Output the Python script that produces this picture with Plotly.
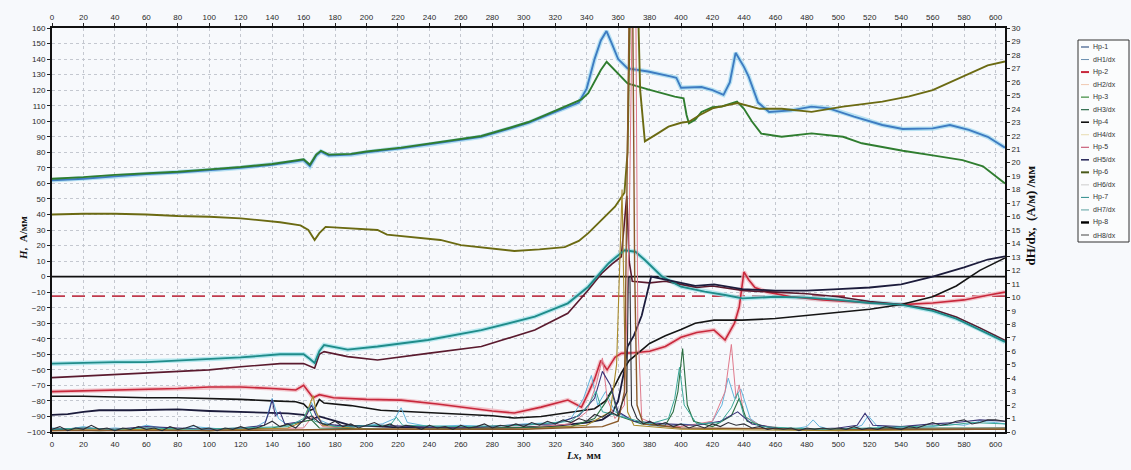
import plotly.graph_objects as go

# ---------------- axis ticks ----------------
X_TICKS = list(range(0, 601, 20))
H_TICKS = list(range(-100, 161, 10))
D_TICKS = list(range(0, 31, 1))
X_RANGE = [0, 606]
H_RANGE = [-100, 160]
D_RANGE = [0, 30]
ZERO_LEVEL = 0
THRESHOLD_LEVEL = -12.5

# ---------------- H series (left axis, A/mm) : (Lx, H) ----------------
HP1 = [(0,62),(20,63),(40,64.5),(60,66),(80,67),(100,68.5),(120,70),(140,72),(155,74),(160,75),(164,71),
       (168,78),(171,80.5),(176,78),(190,78.5),(200,80),(222,82.5),(240,85),(260,88),(273,90),(290,95),
       (303,99),(315,104),(328,109.5),(335,112),(340,121),(345,140),(349,152),(352.6,158),(356,150),
       (360,140),(366,134),(379,132),(394,128.7),(397,128),(400,121.5),(413,122),(420,120),(427,117),
       (431,125),(434.7,144),(440,135),(443,128.7),(449,112),(456,106),(470,107),(483,109.4),(494,108.3),
       (510,103),(528,97.6),(541,95),(560,95.4),(571,97.6),(583,94.4),(595,90),(606,83)]
HP2 = [(0,-74),(20,-73.5),(40,-73),(60,-72.5),(80,-72),(100,-71),(120,-71),(140,-72),(155,-73),(160,-70),
       (163,-74),(166,-78),(170,-76),(179,-78),(200,-79),(222,-79.5),(245,-82),(265,-84.6),(280,-86.5),
       (294,-87.8),(311,-84),(328,-79.4),(336.7,-84),(341,-75),(345,-66),(349,-54),(353,-60),(358,-52),
       (362,-49.4),(370,-49),(380,-48),(390,-45),(400,-39),(410,-36),(421,-34.4),(428,-40.8),(434,-30),
       (437,-19.6),(440,3),(443,-2),(447,-7),(455,-10),(470,-13),(490,-15),(520,-17),(540,-18),(560,-17),
       (580,-15),(595,-12),(606,-10)]
HP3 = [(0,63),(20,64),(40,65.5),(60,66.5),(80,67.5),(100,69),(120,70.5),(140,72.5),(155,74.5),(160,75.5),
       (164,72),(168,78.5),(171,81),(176,78.5),(190,79),(200,80.5),(222,83),(240,85.5),(260,88.5),(273,90.5),
       (290,95.5),(303,99.5),(315,104.5),(328,110.5),(336.7,114),(341,118),(345,126),(349,133),(352.7,138.3),
       (358,133),(366,124.4),(379,120.5),(396,115.8),(401.6,114.8),(403.5,104),(405,98.7),(409,101),(413,106),
       (420,109),(426,109.5),(435.6,112.6),(440,108),(445,100),(451,92),(464,90),(483,92.2),(503,90),
       (515,85.8),(541,81),(560,78),(579,75),(592,71),(600,65),(606,60)]
HP4 = [(0,-77),(20,-77),(40,-77.5),(60,-78),(80,-78),(100,-78.5),(120,-79),(140,-80),(155,-80.5),(160,-82),
       (164,-86),(167,-85),(170,-79),(173,-81.4),(190,-83),(209,-86),(230,-87),(256,-88),(280,-89.5),
       (294,-91),(311,-90),(332,-87),(345,-85),(352,-80),(358,-70),(362,-62),(367,-54),(380,-43),(390,-38),
       (400,-34),(409,-30),(421,-28),(439,-28),(460,-27),(480,-25),(500,-23),(520,-21),(540,-18),(560,-13),
       (575,-6),(590,4),(606,12)]
HP5 = [(0,-65),(20,-64),(40,-63),(60,-62),(80,-61),(100,-60),(120,-58),(145,-56),(160,-56),(164,-58),
       (167,-59),(170,-50),(173,-48.3),(188,-51.5),(207,-53.7),(239,-49.4),(273,-45),(307,-34.4),(328,-23.6),
       (341,-8.6),(349.5,2),(356,8),(362,12.8),(364,35),(365.5,52),(367,10),(369,-3),(380,-4),(390,-3),
       (400,-5),(410,-7),(420,-6),(440,-9),(460,-10),(480,-11),(500,-13),(520,-16),(540,-18),(560,-21),
       (575,-26),(590,-33),(606,-41)]
HP6 = [(0,40),(20,40.5),(40,40.5),(60,40),(80,39),(100,38.5),(120,37.5),(145,35),(158,33),(163,30),
       (167,23.6),(170,28),(174,32),(190,31),(207,30),(213,27),(230,25.5),(247,23.6),(260,20.3),(280,18),
       (294,16.5),(310,17.5),(326,19),(335,23),(341,28),(350,37),(358,45),(364,54),(366,80),(368,200),
       (372,200),(374,120),(377,87),(385,92),(392,96.5),(400,99),(405,99.7),(412,104),(420,108.3),(428,110),
       (436,111.7),(450,108),(464,108),(483,106),(503,109.4),(528,112.6),(545,116),(560,120),(575,127),
       (586,132),(595,136),(606,138.5)]
HP7 = [(0,-56),(20,-55.5),(40,-55),(60,-55),(80,-54),(100,-53),(120,-52),(145,-50),(160,-50),(164,-53),
       (167,-55.6),(170,-48),(173,-44),(188,-47),(207,-45),(239,-40.8),(273,-34.4),(307,-25.8),(328,-17.2),
       (341,-6.5),(354,8.6),(364,17),(371,16),(377,10.7),(388,0),(400,-6.5),(415,-9.7),(428,-11.8),
       (439,-14),(460,-13),(480,-13.5),(500,-15),(520,-17),(540,-18),(560,-22),(575,-27),(590,-34),(606,-42)]
HP8 = [(0,-89),(10,-88.5),(20,-87),(30,-86),(50,-86),(80,-85.5),(100,-86.5),(120,-87),(140,-87.5),
       (150,-88),(160,-89),(165,-92),(170,-90),(180,-93),(191,-96),(200,-96),(220,-97),(250,-97),
       (280,-97.5),(300,-97),(320,-96),(340,-94),(350,-92),(356,-88),(360,-80),(364,-60),(366,-45),
       (370,-38),(375,-25),(381,0),(390,-2),(400,-4),(409,-6),(421,-5),(439,-8),(460,-9),(480,-9),
       (500,-8),(520,-7),(540,-5),(560,0),(580,6),(595,11),(606,13)]

# ---------------- dH/dx series (right axis, (A/m)/mm) : (Lx, dH/dx) ----------------
DH1 = [(0,0.3),(10,0.2),(20,0.4),(30,0.2),(40,0.3),(50,0.2),(60,0.5),(70,0.3),(80,0.2),(90,0.4),(100,0.3),
       (110,0.2),(120,0.3),(130,0.4),(136,0.8),(140,2.5),(144,1.0),(150,0.5),(160,0.8),(165,2.2),(170,0.9),
       (180,0.4),(190,0.3),(200,0.5),(210,0.6),(218,1.0),(222,1.8),(226,0.7),(240,0.4),(260,0.5),(280,0.4),
       (300,0.6),(320,0.7),(330,1.0),(338,2.5),(343,4.2),(347,2.0),(352,3.0),(358,1.5),(370,0.8),(380,0.5),
       (390,0.4),(400,0.6),(410,0.5),(420,0.8),(426,2.0),(430,4.0),(434,2.5),(438,3.2),(444,1.0),(450,0.5),
       (460,0.3),(470,0.2),(480,0.4),(484,0.9),(488,0.4),(495,0.2),(510,0.3),(515,0.5),(519,1.2),(525,0.4),
       (540,0.3),(560,0.4),(570,0.6),(580,0.5),(590,0.8),(600,0.7),(606,0.6)]
DH2 = [(0,0.1),(40,0.2),(80,0.1),(120,0.2),(160,0.3),(166,1.2),(172,0.4),(200,0.2),(250,0.3),(300,0.3),
       (330,0.6),(340,1.5),(346,3.5),(350,5.5),(353,2.5),(358,1.0),(364,2),(367,15),(369.5,36),(371,36),
       (372.5,8),(375,1),(385,0.5),(400,0.4),(420,0.8),(428,3),(432,6.5),(435,2.5),(437,3.5),(440,1.2),
       (450,0.5),(470,0.2),(500,0.1),(550,0.2),(606,0.3)]
DH3 = [(0,0.2),(30,0.1),(60,0.2),(100,0.1),(140,0.3),(165,0.9),(170,0.3),(220,0.2),(280,0.3),(330,0.4),
       (345,1.0),(352,2.2),(356,3.0),(360,1.2),(375,0.6),(390,0.5),(395,1.5),(398,3.0),(401,6.2),(404,2.0),
       (408,0.8),(420,0.4),(432,1.2),(437,2.5),(442,0.8),(460,0.2),(500,0.2),(560,0.3),(606,0.3)]
DH4 = [(0,0.1),(50,0.2),(100,0.1),(150,0.3),(160,0.8),(164,2.0),(166,2.7),(168,1.5),(172,0.5),(200,0.2),
       (300,0.2),(340,0.5),(355,1.5),(359,5),(361,12),(362.5,18),(364,8),(366,1.5),(370,0.5),(400,0.2),
       (500,0.1),(606,0.2)]
DH5 = [(0,0.2),(20,0.3),(40,0.2),(60,0.4),(80,0.3),(100,0.2),(120,0.3),(135,0.5),(138,1.5),(140,2.4),
       (142,1.2),(145,1.5),(148,0.6),(160,0.8),(163,1.5),(165,2.0),(168,1.2),(172,0.6),(190,0.4),(210,0.5),
       (230,0.4),(260,0.3),(290,0.5),(320,0.6),(335,1.2),(345,2.5),(350,4.5),(355,3.5),(360,1.5),(370,0.8),
       (390,0.6),(410,0.5),(425,0.8),(436,1.5),(445,0.6),(460,0.3),(480,0.2),(500,0.3),(512,0.5),(517,1.4),
       (522,0.5),(540,0.4),(560,0.6),(575,0.7),(590,0.9),(606,0.8)]
DH6 = [(0,0.1),(100,0.1),(200,0.2),(300,0.2),(350,0.4),(360,0.8),(364,3),(366,20),(367.5,36),(369,36),
       (370.5,12),(372,2),(376,0.6),(400,0.3),(500,0.2),(606,0.2)]
DH7 = [(0,0.2),(20,0.3),(40,0.2),(60,0.3),(90,0.2),(120,0.3),(150,0.4),(160,1.0),(163,1.8),(167,0.8),
       (180,0.4),(215,0.5),(219,1.1),(223,0.5),(260,0.4),(300,0.5),(330,0.8),(340,1.8),(346,3.0),(350,1.5),
       (360,1.2),(380,0.6),(392,1.0),(396,2.5),(399,4.8),(402,2.0),(410,0.6),(425,0.7),(432,1.8),(436,2.9),
       (440,1.2),(450,0.4),(470,0.3),(490,0.2),(520,0.3),(550,0.4),(570,0.5),(585,0.7),(606,0.6)]
DH8 = [(0,0.2),(5,0.4),(10,0.1),(15,0.3),(20,0.2),(25,0.5),(30,0.2),(35,0.3),(40,0.1),(45,0.3),(50,0.2),
       (55,0.4),(60,0.2),(65,0.3),(70,0.1),(75,0.4),(80,0.2),(85,0.3),(90,0.5),(95,0.2),(100,0.3),(105,0.1),
       (110,0.3),(115,0.2),(120,0.4),(125,0.2),(130,0.3),(135,0.5),(140,0.8),(145,0.4),(150,0.6),(155,0.3),
       (160,0.9),(165,1.2),(170,0.7),(175,0.5),(180,0.8),(185,0.4),(190,0.6),(195,0.3),(200,0.5),(205,0.7),
       (210,0.4),(215,0.6),(220,0.3),(225,0.5),(230,0.4),(235,0.2),(240,0.5),(245,0.3),(250,0.4),(255,0.2),
       (260,0.5),(265,0.3),(270,0.4),(275,0.6),(280,0.3),(285,0.5),(290,0.4),(295,0.6),(300,0.4),(305,0.7),
       (310,0.5),(315,0.8),(320,0.6),(325,0.9),(330,0.7),(335,1.0),(340,0.8),(345,1.3),(350,1.1),(355,1.5),
       (360,1.2),(362,2),(365.5,3),(366.5,11.5),(367.5,11.5),(368.5,2),(372,1.0),(376,0.6),(380,0.8),
       (385,0.5),(390,0.7),(395,0.4),(400,0.6),(405,0.3),(410,0.5),(415,0.3),(420,0.6),(425,0.4),(430,0.7),
       (435,0.5),(440,0.6),(445,0.3),(450,0.4),(455,0.2),(460,0.3),(465,0.2),(470,0.3),(475,0.1),(480,0.3),
       (485,0.2),(490,0.3),(495,0.2),(500,0.3),(505,0.2),(510,0.4),(515,0.2),(520,0.3),(525,0.2),(530,0.4),
       (535,0.3),(540,0.2),(545,0.4),(550,0.3),(555,0.5),(560,0.7),(565,0.5),(570,0.6),(575,0.8),(580,0.9),
       (585,0.6),(590,0.7),(595,0.9),(600,0.9),(606,0.8)]

# name, data, colour, width, axis ("h" = left, "d" = right), halo colour (scan-like glow) or None
SERIES = [
    ("Нр-1",   HP1, "#3d7cc2", 1.9, "h", "#a8dcf0"),
    ("dH1/dx", DH1, "#62b4dc", 1.0, "d", None),
    ("Нр-2",   HP2, "#c8283c", 1.6, "h", "#f2b8c0"),
    ("dH2/dx", DH2, "#e07a8c", 1.0, "d", None),
    ("Нр-3",   HP3, "#2f7d2f", 1.9, "h", None),
    ("dH3/dx", DH3, "#2a6e40", 1.1, "d", None),
    ("Нр-4",   HP4, "#151515", 1.6, "h", None),
    ("dH4/dx", DH4, "#a88a2a", 1.1, "d", None),
    ("Нр-5",   HP5, "#5a1a2e", 1.6, "h", None),
    ("dH5/dx", DH5, "#3a3478", 1.1, "d", None),
    ("Нр-6",   HP6, "#6b6a12", 1.9, "h", None),
    ("dH6/dx", DH6, "#8a5a2a", 1.4, "d", None),
    ("Нр-7",   HP7, "#1f8c8a", 1.9, "h", "#a8e4ec"),
    ("dH7/dx", DH7, "#3aa898", 1.0, "d", None),
    ("Нр-8",   HP8, "#1c1c3c", 1.8, "h", None),
    ("dH8/dx", DH8, "#2e2e36", 1.1, "d", None),
]
LEGEND_COLORS = ["#3c5a8a", "#6b8fb0", "#c8283c", "#f0c8b0", "#3a8a3a", "#2c6a4a", "#111111", "#e8dcb0",
                 "#c04060", "#303060", "#4a5a1a", "#cccccc", "#2a8a8a", "#5aa0a0", "#000000", "#444444"]
LEGEND_WIDTHS = [1.2, 1.0, 2.0, 1.0, 1.2, 1.2, 1.6, 1.0, 1.0, 1.6, 2.0, 1.0, 1.0, 1.0, 2.4, 1.0]

fig = go.Figure()

# reference levels (zero line and dashed threshold) spanning the whole axis range
fig.add_trace(go.Scatter(x=X_RANGE, y=[ZERO_LEVEL, ZERO_LEVEL], mode="lines", xaxis="x", yaxis="y",
                         line=dict(color="#111111", width=1.6), showlegend=False, hoverinfo="skip"))
fig.add_trace(go.Scatter(x=X_RANGE, y=[THRESHOLD_LEVEL, THRESHOLD_LEVEL], mode="lines", xaxis="x", yaxis="y",
                         line=dict(color="#c03a4c", width=1.8, dash="13px,7px"), showlegend=False,
                         hoverinfo="skip"))

# soft halos under some curves (scan glow), then the curves themselves
for name, pts, color, width, ax, halo in SERIES:
    if ax == "h" and halo:
        xs, ys = zip(*pts)
        fig.add_trace(go.Scatter(x=xs, y=ys, mode="lines", xaxis="x", yaxis="y", hoverinfo="skip",
                                 line=dict(color=halo, width=width + 2.6), opacity=0.8, showlegend=False))
for name, pts, color, width, ax, halo in SERIES:
    if ax != "h":
        continue
    xs, ys = zip(*pts)
    fig.add_trace(go.Scatter(x=xs, y=ys, mode="lines", name=name, xaxis="x", yaxis="y",
                             line=dict(color=color, width=width), showlegend=False))
for name, pts, color, width, ax, halo in SERIES:
    if ax != "d":
        continue
    xs, ys = zip(*pts)
    fig.add_trace(go.Scatter(x=xs, y=ys, mode="lines", name=name, xaxis="x2", yaxis="y2",
                             line=dict(color=color, width=width), showlegend=False))

W, H = 1131, 470
ML, MR, MT, MB = 52, 126, 28, 38
PW, PH = W - ML - MR, H - MT - MB


def px_x(px):
    return (px - ML) / PW


def px_y(py):
    return (H - MB - py) / PH


tickfont = dict(family="Liberation Sans, Arial, sans-serif", size=8, color="#2a2a2a")
grid = dict(showgrid=True, gridcolor="#c4c8d0", griddash="dot", gridwidth=1)
common = dict(ticks="outside", ticklen=3, tickwidth=1, tickcolor="#222", showline=True,
              linecolor="#111", linewidth=2, zeroline=False, tickfont=tickfont)

fig.update_layout(
    width=W, height=H,
    margin=dict(l=ML, r=MR, t=MT, b=MB),
    paper_bgcolor="#f7f9fc", plot_bgcolor="#f7f9fc",
    showlegend=False,
    xaxis=dict(range=X_RANGE, tickvals=X_TICKS, **grid, **common),
    xaxis2=dict(range=X_RANGE, tickvals=X_TICKS, overlaying="x", side="top", anchor="y2",
                showgrid=False, **common),
    yaxis=dict(range=H_RANGE, tickvals=H_TICKS, **grid, **common),
    yaxis2=dict(range=D_RANGE, tickvals=D_TICKS, overlaying="y", side="right", anchor="x2",
                showgrid=False, **common),
)

# axis titles
serif = "Liberation Serif, Times New Roman, serif"
fig.add_annotation(text="<b><i>H</i>,  А/мм</b>", x=px_x(15), y=px_y(238), xref="paper", yref="paper",
                   textangle=-90, showarrow=False, font=dict(family=serif, size=11, color="#111"))
fig.add_annotation(text="<b>dH/dx,  (А/м) /мм</b>", x=px_x(1039), y=px_y(216), xref="paper", yref="paper",
                   textangle=-90, showarrow=False, font=dict(family=serif, size=13, color="#111"))
fig.add_annotation(text="<b><i>Lx</i>,  мм</b>", x=px_x(583), y=px_y(463), xref="paper", yref="paper",
                   showarrow=False, font=dict(family=serif, size=10.5, color="#111"))

# legend box (drawn manually so the compact row spacing of the original is kept)
LX0, LX1, LY0, LY1 = 1078, 1129, 40, 242
fig.add_shape(type="rect", xref="paper", yref="paper", x0=px_x(LX0), x1=px_x(LX1), y0=px_y(LY1), y1=px_y(LY0),
              line=dict(color="#333", width=1), fillcolor="#fbfcfd", layer="below")
row = (LY1 - LY0 - 14) / (len(SERIES) - 1)
for i, (name, *_rest) in enumerate(SERIES):
    yy = LY0 + 7 + i * row
    fig.add_shape(type="line", xref="paper", yref="paper", x0=px_x(1081), x1=px_x(1089),
                  y0=px_y(yy), y1=px_y(yy), line=dict(color=LEGEND_COLORS[i], width=LEGEND_WIDTHS[i]))
    fig.add_annotation(text=name, x=px_x(1091), y=px_y(yy), xref="paper", yref="paper", xanchor="left",
                       yanchor="middle", showarrow=False,
                       font=dict(family="Liberation Sans, Arial, sans-serif", size=7, color="#333"))

fig.write_html("out.html")
